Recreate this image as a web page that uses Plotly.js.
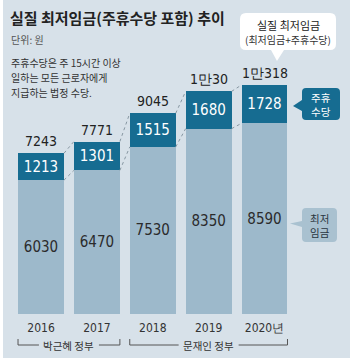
<!DOCTYPE html>
<html><head><meta charset="utf-8">
<script src="https://cdn.plot.ly/plotly-3.0.1.min.js"></script>
<style>html,body{margin:0;padding:0;background:#fff;}#c{width:352px;height:363px;}</style>
</head><body><div id="c"></div>
<script>
// ---- data ----
const years = ['2016', '2017', '2018', '2019', '2020년'];
const minWage = [6030, 6470, 7530, 8350, 8590];          // 최저임금
const weeklyAllowance = [1213, 1301, 1515, 1680, 1728];   // 주휴수당
const totals = [7243, 7771, 9045, 10030, 10318];          // 실질 최저임금
const govLabels = ['박근혜 정부', '문재인 정부'];
const govSpans = [[0, 1], [2, 4]];
const titleText = '실질 최저임금(주휴수당 포함) 추이';
const unitText = '단위: 원';
const noteLines = ['주휴수당은 주 15시간 이상', '일하는 모든 근로자에게', '지급하는 법정 수당.'];
const allowanceTag = ['주휴', '수당'];
const minWageTag = ['최저', '임금'];

// ---- style ----
const W = 352, H = 363, MB = 49, PH = H - MB;
const X0 = -0.734, X1 = 5.566, BW = 0.823;
const YMAX = 14146;
const cPanel = '#d7e1e9', cDark = '#166c91', cLight = '#9db9cb', cLightBox = '#a9c1d0';
const narrow = 'Liberation Sans Narrow, DejaVu Sans Condensed, Arial Narrow, sans-serif';
const kr = 'Noto Sans CJK KR, sans-serif';

const px = x => x / W;
const py = y => (PH - y) / PH;
const pxOfCat = i => (i - X0) / (X1 - X0) * W;
const P = (x, y) => px(x).toFixed(5) + ',' + py(y).toFixed(5);

function fmtTotal(t) {
  return t >= 10000 ? Math.floor(t / 10000) + '만' + (t % 10000) : String(t);
}

function note(x, y, text, font, xanchor) {
  return {xref: 'paper', yref: 'paper', x: px(x), y: py(y), xanchor: xanchor || 'center', yanchor: 'middle',
    text: text, showarrow: false, font: font, borderpad: 0};
}

const traces = [
  {
    type: 'bar', x: years.map((_, i) => i), y: minWage, width: BW,
    marker: {color: cLight}, text: minWage.map(String), texttemplate: '%{text}',
    textposition: 'inside', insidetextanchor: 'middle', textangle: 0,
    textfont: {family: narrow, size: 15, color: '#2b2b2b'}, hoverinfo: 'none'
  },
  {
    type: 'bar', x: years.map((_, i) => i), y: weeklyAllowance, width: BW,
    marker: {color: cDark}, text: weeklyAllowance.map(String), texttemplate: '%{text}',
    textposition: 'inside', insidetextanchor: 'middle', textangle: 0,
    textfont: {family: narrow, size: 15, color: '#ffffff'}, hoverinfo: 'none'
  }
];

const shapes = [];
const annotations = [];

// panel background
shapes.push({type: 'rect', xref: 'paper', yref: 'paper', x0: px(3), x1: px(350), y0: py(358), y1: py(0),
  fillcolor: cPanel, line: {width: 0}, layer: 'below'});

// dotted connectors between bars
for (let i = 0; i < years.length - 1; i++) {
  [[totals[i], totals[i + 1]], [minWage[i], minWage[i + 1]]].forEach(([a, b]) => {
    shapes.push({type: 'line', xref: 'x', yref: 'y', x0: i + BW / 2, x1: i + 1 - BW / 2, y0: a, y1: b,
      line: {color: '#8797a2', width: 1, dash: 'dot'}});
  });
}

// total labels
totals.forEach((t, i) => {
  annotations.push({xref: 'x', yref: 'y', x: i, y: t, text: fmtTotal(t), showarrow: false,
    xanchor: 'center', yanchor: 'bottom', yshift: 2, font: {family: narrow, size: 14, color: '#222'}});
});

// title / notes
annotations.push(note(9, 18, '<b>' + titleText + '</b>', {family: kr, size: 15, color: '#222'}, 'left'));
annotations.push(note(10, 40, unitText, {family: kr, size: 10, color: '#555'}, 'left'));
noteLines.forEach((t, k) => {
  annotations.push(note(10, 63 + k * 14.5, t, {family: kr, size: 10, color: '#333'}, 'left'));
});

// callout: 실질 최저임금
(function () {
  const x0 = 240, x1 = 336, y0 = 13, y1 = 50, r = 6;
  const path = 'M' + P(x0 + r, y0) + ' L' + P(x1 - r, y0) + ' Q' + P(x1, y0) + ' ' + P(x1, y0 + r) +
    ' L' + P(x1, y1 - r) + ' Q' + P(x1, y1) + ' ' + P(x1 - r, y1) +
    ' L' + P(284, y1) + ' L' + P(277, 61) + ' L' + P(271, y1) +
    ' L' + P(x0 + r, y1) + ' Q' + P(x0, y1) + ' ' + P(x0, y1 - r) +
    ' L' + P(x0, y0 + r) + ' Q' + P(x0, y0) + ' ' + P(x0 + r, y0) + ' Z';
  shapes.push({type: 'path', xref: 'paper', yref: 'paper', path: path, fillcolor: '#ffffff', line: {width: 0}});
  annotations.push(note(288, 25, '실질 최저임금', {family: kr, size: 11, color: '#222'}));
  annotations.push(note(288, 40, '(최저임금+주휴수당)', {family: kr, size: 10, color: '#333'}));
})();

// legend tag: 주휴 수당
(function () {
  const x0 = 302, x1 = 340, y0 = 88, y1 = 120, r = 4;
  const path = 'M' + P(x0 + r, y0) + ' L' + P(x1 - r, y0) + ' Q' + P(x1, y0) + ' ' + P(x1, y0 + r) +
    ' L' + P(x1, y1 - r) + ' Q' + P(x1, y1) + ' ' + P(x1 - r, y1) +
    ' L' + P(x0 + r, y1) + ' Q' + P(x0, y1) + ' ' + P(x0, y1 - r) +
    ' L' + P(x0, 111) + ' L' + P(293, 106) + ' L' + P(x0, 100) +
    ' L' + P(x0, y0 + r) + ' Q' + P(x0, y0) + ' ' + P(x0 + r, y0) + ' Z';
  shapes.push({type: 'path', xref: 'paper', yref: 'paper', path: path, fillcolor: cDark, line: {width: 0}});
  allowanceTag.forEach((t, k) => annotations.push(note(321, 97 + k * 14, t, {family: kr, size: 10.5, color: '#fff'})));
})();

// legend tag: 최저 임금
(function () {
  const x0 = 302, x1 = 337, y0 = 208, y1 = 242, r = 4;
  const path = 'M' + P(x0 + r, y0) + ' L' + P(x1 - r, y0) + ' Q' + P(x1, y0) + ' ' + P(x1, y0 + r) +
    ' L' + P(x1, y1 - r) + ' Q' + P(x1, y1) + ' ' + P(x1 - r, y1) +
    ' L' + P(x0 + r, y1) + ' Q' + P(x0, y1) + ' ' + P(x0, y1 - r) +
    ' L' + P(x0, 227) + ' L' + P(290, 223.5) + ' L' + P(x0, 221) +
    ' L' + P(x0, y0 + r) + ' Q' + P(x0, y0) + ' ' + P(x0 + r, y0) + ' Z';
  shapes.push({type: 'path', xref: 'paper', yref: 'paper', path: path, fillcolor: cLightBox, line: {width: 0}});
  minWageTag.forEach((t, k) => annotations.push(note(319.5, 218 + k * 14, t, {family: kr, size: 10.5, color: '#2a3640'})));
})();

// government brackets
govSpans.forEach(([a, b], k) => {
  const L = pxOfCat(a) - BW / 2 * (W / (X1 - X0));
  const R = pxOfCat(b) + BW / 2 * (W / (X1 - X0));
  const C = (L + R) / 2, yl = 345, yt = 339, half = 30;
  const ln = {color: '#555', width: 1};
  shapes.push({type: 'path', xref: 'paper', yref: 'paper', path: 'M' + P(L, yt) + ' L' + P(L, yl) + ' L' + P(C - half, yl), line: ln});
  shapes.push({type: 'path', xref: 'paper', yref: 'paper', path: 'M' + P(C + half, yl) + ' L' + P(R, yl) + ' L' + P(R, yt), line: ln});
  annotations.push(note(C, yl, govLabels[k], {family: kr, size: 10.5, color: '#333'}));
});

const layout = {
  width: W, height: H, autosize: false,
  margin: {l: 0, r: 0, t: 0, b: MB, pad: 0},
  paper_bgcolor: '#ffffff', plot_bgcolor: 'rgba(0,0,0,0)',
  barmode: 'stack', bargap: 0, showlegend: false,
  xaxis: {range: [X0, X1], tickvals: years.map((_, i) => i), ticktext: years, showgrid: false, zeroline: false,
    showline: false, ticks: '', ticklabelstandoff: 5, tickfont: {family: narrow, size: 12, color: '#333'}, fixedrange: true},
  yaxis: {range: [0, YMAX], visible: false, fixedrange: true},
  shapes: shapes, annotations: annotations
};

Plotly.newPlot('c', traces, layout, {displayModeBar: false, staticPlot: true});
</script></body></html>
